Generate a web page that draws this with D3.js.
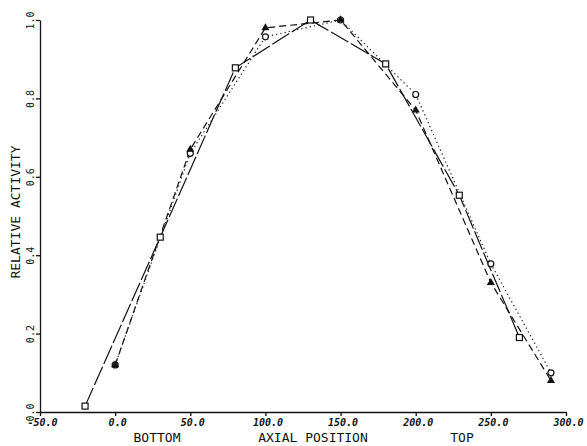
<!DOCTYPE html>
<html><head><meta charset="utf-8">
<script src="https://cdn.jsdelivr.net/npm/d3@7"></script>
<style>
html,body{margin:0;padding:0;background:#fff;}
svg{display:block;}
text{font-family:"DejaVu Sans Mono",monospace;fill:#111;}
</style></head>
<body>
<svg id="c" width="587" height="446"></svg>
<script>
const xTicks = [-50, 0, 50, 100, 150, 200, 250, 300];
const yTicks = [0, 0.2, 0.4, 0.6, 0.8, 1.0];
const triX = [0, 50, 100, 150, 200, 250, 290];
const triY = [0.12, 0.67, 0.98, 1.0, 0.77, 0.33, 0.08];
const circX = [0, 50, 100, 150, 200, 250, 290];
const circY = [0.12, 0.66, 0.957, 1.0, 0.81, 0.378, 0.10];
const sqX = [-20, 30, 80, 130, 180, 229, 269];
const sqY = [0.015, 0.446, 0.878, 1.0, 0.888, 0.553, 0.19];
const xTitle = "AXIAL POSITION";
const yTitle = "RELATIVE ACTIVITY";
const leftNote = "BOTTOM", rightNote = "TOP";

const svg = d3.select("#c");
const x = d3.scaleLinear().domain([-50, 300]).range([40, 566]);
const y = d3.scaleLinear().domain([0, 1]).range([412, 20]);
const fmt = v => d3.format(".1f")(v).replace("\u2212", "-");

const gx = svg.append("g").attr("transform", `translate(0,${y(0)})`)
  .call(d3.axisBottom(x).tickValues(xTicks).tickFormat(fmt).tickSize(4).tickSizeOuter(0).tickPadding(3));
gx.selectAll("text").attr("font-size", 10).attr("font-family", "DejaVu Sans Mono").attr("dx", 2)
  .attr("font-style", "italic").attr("font-weight", "bold");
const gy = svg.append("g").attr("transform", `translate(${x(-50)},0)`)
  .call(d3.axisLeft(y).tickValues(yTicks).tickFormat(fmt).tickSize(4).tickSizeOuter(0));
gy.selectAll("text").attr("x", null).attr("dy", null).attr("text-anchor", "middle")
  .attr("transform", "translate(-6,0) rotate(-90)").attr("font-size", 10).attr("font-family", "DejaVu Sans Mono");
svg.selectAll(".domain, .tick line").attr("stroke", "#111").attr("stroke-width", 1.3);

svg.append("text").attr("x", 313).attr("y", 442).attr("text-anchor", "middle").attr("font-size", 13).text(xTitle);
svg.append("text").attr("x", 157).attr("y", 442).attr("text-anchor", "middle").attr("font-size", 13).text(leftNote);
svg.append("text").attr("x", 462).attr("y", 442).attr("text-anchor", "middle").attr("font-size", 13).text(rightNote);
svg.append("text").attr("transform", "translate(20,212) rotate(-90)").attr("text-anchor", "middle").attr("font-size", 13).text(yTitle);

const line = d3.line().x(d => x(d[0])).y(d => y(d[1]));
const tri = triX.map((v, i) => [v, triY[i]]);
const circ = circX.map((v, i) => [v, circY[i]]);
const sq = sqX.map((v, i) => [v, sqY[i]]);

svg.append("path").attr("d", line(sq)).attr("fill", "none").attr("stroke", "#111").attr("stroke-width", 1.2).attr("stroke-dasharray", "20,3");
svg.append("path").attr("d", line(tri)).attr("fill", "none").attr("stroke", "#111").attr("stroke-width", 1.2).attr("stroke-dasharray", "7,4");
svg.append("path").attr("d", line(circ)).attr("fill", "none").attr("stroke", "#222").attr("stroke-width", 1.2).attr("stroke-dasharray", "1.3,3");

svg.append("g").selectAll("circle").data(circ).join("circle")
  .attr("cx", d => x(d[0])).attr("cy", d => y(d[1])).attr("r", 3)
  .attr("fill", "#fff").attr("stroke", "#111").attr("stroke-width", 1.2);
svg.append("g").selectAll("path").data(tri).join("path")
  .attr("transform", d => `translate(${x(d[0])},${y(d[1])})`)
  .attr("d", d3.symbol(d3.symbolTriangle, 28)).attr("fill", "#111");
svg.append("g").selectAll("rect").data(sq).join("rect")
  .attr("x", d => x(d[0]) - 3).attr("y", d => y(d[1]) - 3).attr("width", 6).attr("height", 6)
  .attr("fill", "#fff").attr("stroke", "#111").attr("stroke-width", 1.2);
</script>
</body></html>
